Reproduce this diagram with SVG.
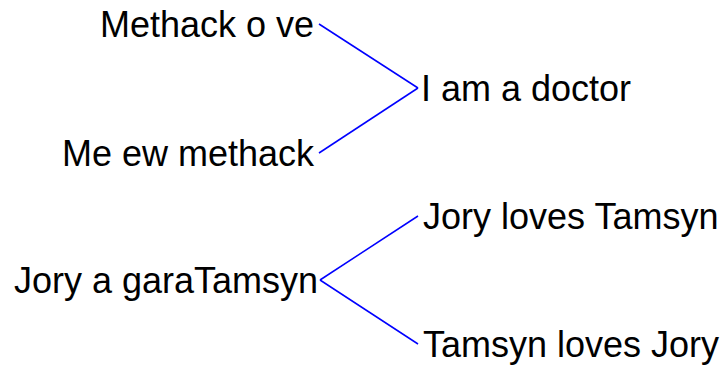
<svg xmlns="http://www.w3.org/2000/svg" width="722" height="366" viewBox="0 0 722 366">
<style>
text{font-family:"Liberation Sans",Arial,sans-serif;font-size:36px;fill:#000}
.r{text-anchor:end}
.c line{stroke:#0000ff;stroke-width:1.5}
</style>
<rect width="722" height="366" fill="#fff"/>
<g class="c" id="connectors">
<line x1="319" y1="24" x2="418" y2="88"/>
<line x1="319" y1="153" x2="418" y2="88"/>
<line x1="320" y1="280" x2="418" y2="216"/>
<line x1="320" y1="280" x2="418" y2="344"/>
</g>
<g id="n1"><text class="r" x="314" y="37">Methack o ve</text></g>
<g id="n2"><text x="421" y="101">I am a doctor</text></g>
<g id="n3"><text class="r" x="314" y="166">Me ew methack</text></g>
<g id="n4"><text x="423" y="229">Jory loves Tamsyn</text></g>
<g id="n5"><text class="r" x="318" y="293">Jory a garaTamsyn</text></g>
<g id="n6"><text x="423" y="357">Tamsyn loves Jory</text></g>
</svg>
